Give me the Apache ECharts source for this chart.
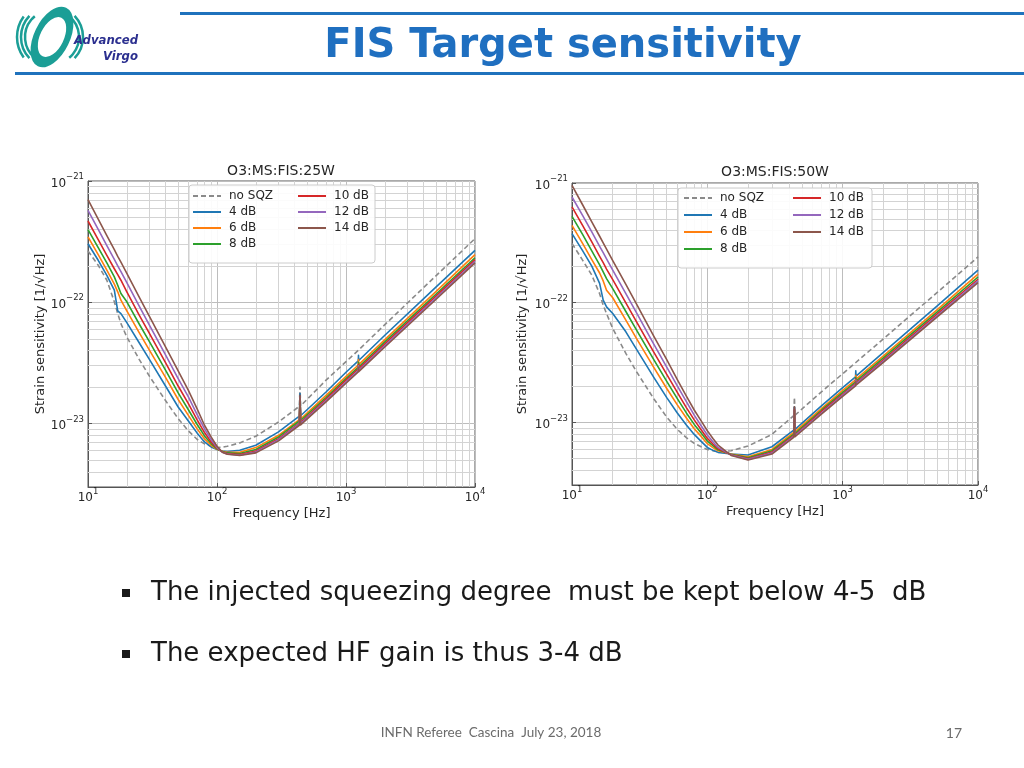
<!DOCTYPE html>
<html>
<head>
<meta charset="utf-8">
<title>FIS Target sensitivity</title>
<script src="https://cdn.jsdelivr.net/npm/echarts@6/dist/echarts.min.js"></script>
<style>
  html, body { margin: 0; padding: 0; background: #fff; }
  #main { width: 1024px; height: 768px; }
</style>
</head>
<body>
<div id="main"></div>
<script>
// frequency points [Hz], shared by both plots
const freq = [10, 12, 14, 16, 17, 18, 20, 25, 30, 40, 50, 60, 70, 80, 90, 100, 110, 120, 150, 200, 300, 435, 440, 445, 700, 1000, 1245, 1250, 1255, 2000, 5000, 10000];

// strain sensitivity [1/sqrt(Hz)], O3:MS:FIS:25W
const noSqz25 = [2.65e-22, 2.02e-22, 1.52e-22, 1.01e-22, 8.07e-23, 6.67e-23, 5.18e-23, 3.37e-23, 2.45e-23, 1.54e-23, 1.10e-23, 8.70e-24, 7.43e-24, 6.80e-24, 6.50e-24, 6.34e-24, 6.38e-24, 6.50e-24, 6.93e-24, 7.86e-24, 1.03e-23, 1.39e-23, 2.00e-23, 1.40e-23, 2.28e-23, 3.24e-23, 4.02e-23, 4.05e-23, 4.07e-23, 6.54e-23, 1.66e-22, 3.35e-22];
const sqz4_25 = [3.04e-22, 2.22e-22, 1.67e-22, 1.26e-22, 8.48e-23, 8.07e-23, 6.80e-23, 4.62e-23, 3.37e-23, 2.03e-23, 1.37e-23, 1.05e-23, 8.38e-24, 7.06e-24, 6.42e-24, 6.11e-24, 5.95e-24, 5.88e-24, 6.03e-24, 6.63e-24, 8.54e-24, 1.15e-23, 1.77e-23, 1.16e-23, 1.82e-23, 2.65e-23, 3.29e-23, 3.66e-23, 3.31e-23, 5.35e-23, 1.34e-22, 2.68e-22];
const sqz6_25 = [3.46e-22, 2.47e-22, 1.84e-22, 1.41e-22, 1.22e-22, 1.04e-22, 8.48e-23, 5.59e-23, 4.02e-23, 2.39e-23, 1.58e-23, 1.17e-23, 9.09e-24, 7.47e-24, 6.63e-24, 6.14e-24, 5.92e-24, 5.80e-24, 5.80e-24, 6.34e-24, 8.01e-24, 1.08e-23, 1.64e-23, 1.09e-23, 1.71e-23, 2.45e-23, 3.04e-23, 3.37e-23, 3.06e-23, 4.92e-23, 1.23e-22, 2.47e-22];
const sqz8_25 = [3.97e-22, 2.82e-22, 2.11e-22, 1.62e-22, 1.38e-22, 1.18e-22, 1.01e-22, 6.59e-23, 4.71e-23, 2.75e-23, 1.79e-23, 1.30e-23, 9.87e-24, 7.91e-24, 6.84e-24, 6.18e-24, 5.88e-24, 5.73e-24, 5.66e-24, 6.11e-24, 7.76e-24, 1.05e-23, 1.61e-23, 1.06e-23, 1.64e-23, 2.35e-23, 2.91e-23, 3.20e-23, 2.93e-23, 4.71e-23, 1.17e-22, 2.33e-22];
const sqz10_25 = [4.68e-22, 3.29e-22, 2.44e-22, 1.89e-22, 1.69e-22, 1.52e-22, 1.22e-22, 7.81e-23, 5.52e-23, 3.16e-23, 2.04e-23, 1.46e-23, 1.08e-23, 8.43e-24, 7.06e-24, 6.26e-24, 5.84e-24, 5.66e-24, 5.55e-24, 5.95e-24, 7.52e-24, 1.01e-23, 1.64e-23, 1.02e-23, 1.59e-23, 2.28e-23, 2.82e-23, 3.08e-23, 2.84e-23, 4.54e-23, 1.13e-22, 2.25e-22];
const sqz12_25 = [5.73e-22, 4.00e-22, 2.93e-22, 2.26e-22, 2.00e-22, 1.79e-22, 1.45e-22, 9.27e-23, 6.46e-23, 3.66e-23, 2.35e-23, 1.66e-23, 1.19e-23, 9.04e-24, 7.38e-24, 6.34e-24, 5.80e-24, 5.62e-24, 5.48e-24, 5.84e-24, 7.38e-24, 9.94e-24, 1.66e-23, 1.00e-23, 1.55e-23, 2.20e-23, 2.73e-23, 2.99e-23, 2.75e-23, 4.39e-23, 1.09e-22, 2.18e-22];
const sqz14_25 = [7.02e-22, 4.86e-22, 3.54e-22, 2.72e-22, 2.39e-22, 2.14e-22, 1.73e-22, 1.10e-22, 7.62e-23, 4.26e-23, 2.72e-23, 1.88e-23, 1.33e-23, 9.69e-24, 7.76e-24, 6.50e-24, 5.80e-24, 5.59e-24, 5.45e-24, 5.73e-24, 7.20e-24, 9.69e-24, 1.71e-23, 9.75e-24, 1.51e-23, 2.15e-23, 2.67e-23, 2.91e-23, 2.68e-23, 4.28e-23, 1.06e-22, 2.11e-22];

// strain sensitivity [1/sqrt(Hz)], O3:MS:FIS:50W
const noSqz50 = [3.12e-22, 2.26e-22, 1.70e-22, 1.19e-22, 9.53e-23, 8.12e-23, 6.09e-23, 3.77e-23, 2.65e-23, 1.59e-23, 1.11e-23, 8.74e-24, 7.45e-24, 6.68e-24, 6.26e-24, 5.95e-24, 5.80e-24, 5.69e-24, 5.80e-24, 6.35e-24, 7.94e-24, 1.14e-23, 1.62e-23, 1.15e-23, 1.81e-23, 2.55e-23, 3.15e-23, 3.17e-23, 3.19e-23, 4.99e-23, 1.22e-22, 2.41e-22];
const sqz4_50 = [3.78e-22, 2.71e-22, 2.02e-22, 1.45e-22, 1.05e-22, 9.23e-23, 8.12e-23, 5.71e-23, 4.07e-23, 2.40e-23, 1.62e-23, 1.20e-23, 9.50e-24, 7.94e-24, 6.94e-24, 6.18e-24, 5.84e-24, 5.62e-24, 5.44e-24, 5.34e-24, 6.26e-24, 8.63e-24, 1.35e-23, 8.74e-24, 1.38e-23, 1.95e-23, 2.40e-23, 2.70e-23, 2.44e-23, 3.84e-23, 9.41e-23, 1.87e-22];
const sqz6_50 = [4.43e-22, 3.12e-22, 2.29e-22, 1.77e-22, 1.52e-22, 1.27e-22, 1.10e-22, 7.14e-23, 5.02e-23, 2.91e-23, 1.93e-23, 1.40e-23, 1.09e-23, 8.85e-24, 7.64e-24, 6.64e-24, 6.15e-24, 5.80e-24, 5.44e-24, 5.17e-24, 5.95e-24, 8.25e-24, 1.28e-23, 8.36e-24, 1.31e-23, 1.85e-23, 2.27e-23, 2.48e-23, 2.30e-23, 3.60e-23, 8.77e-23, 1.73e-22];
const sqz8_50 = [5.27e-22, 3.71e-22, 2.71e-22, 2.07e-22, 1.81e-22, 1.59e-22, 1.31e-22, 8.44e-23, 5.90e-23, 3.38e-23, 2.21e-23, 1.58e-23, 1.20e-23, 9.62e-24, 8.15e-24, 6.99e-24, 6.39e-24, 5.91e-24, 5.41e-24, 5.07e-24, 5.80e-24, 7.99e-24, 1.25e-23, 8.09e-24, 1.27e-23, 1.78e-23, 2.18e-23, 2.37e-23, 2.21e-23, 3.46e-23, 8.38e-23, 1.64e-22];
const sqz10_50 = [6.31e-22, 4.40e-22, 3.22e-22, 2.44e-22, 2.16e-22, 1.91e-22, 1.56e-22, 9.97e-23, 6.92e-23, 3.91e-23, 2.53e-23, 1.78e-23, 1.33e-23, 1.05e-23, 8.69e-24, 7.35e-24, 6.60e-24, 6.03e-24, 5.37e-24, 4.98e-24, 5.65e-24, 7.79e-24, 1.28e-23, 7.89e-24, 1.24e-23, 1.72e-23, 2.12e-23, 2.30e-23, 2.14e-23, 3.33e-23, 8.07e-23, 1.57e-22];
const sqz12_50 = [7.64e-22, 5.34e-22, 3.90e-22, 2.96e-22, 2.62e-22, 2.32e-22, 1.87e-22, 1.19e-22, 8.23e-23, 4.56e-23, 2.91e-23, 2.02e-23, 1.49e-23, 1.15e-23, 9.38e-24, 7.84e-24, 6.90e-24, 6.18e-24, 5.34e-24, 4.91e-24, 5.55e-24, 7.64e-24, 1.31e-23, 7.74e-24, 1.20e-23, 1.69e-23, 2.08e-23, 2.26e-23, 2.10e-23, 3.25e-23, 7.81e-23, 1.52e-22];
const sqz14_50 = [9.56e-22, 6.55e-22, 4.73e-22, 3.59e-22, 3.16e-22, 2.80e-22, 2.25e-22, 1.42e-22, 9.72e-23, 5.32e-23, 3.36e-23, 2.28e-23, 1.66e-23, 1.27e-23, 1.03e-23, 8.52e-24, 7.35e-24, 6.47e-24, 5.30e-24, 4.85e-24, 5.44e-24, 7.50e-24, 1.35e-23, 7.59e-24, 1.18e-23, 1.65e-23, 2.02e-23, 2.20e-23, 2.05e-23, 3.17e-23, 7.62e-23, 1.47e-22];

const seriesNames = ['no SQZ', '4 dB', '6 dB', '8 dB', '10 dB', '12 dB', '14 dB'];
const seriesColors = ['#8a8a8a', '#1f77b4', '#ff7f0e', '#2ca02c', '#d62728', '#9467bd', '#8c564b'];
const plotTitles = ['O3:MS:FIS:25W', 'O3:MS:FIS:50W'];

// tick labels (base, exponent)
const xTicks = [10, 100, 1000, 10000];
const xTickExp = ['1', '2', '3', '4'];
const yTicks = [1e-23, 1e-22, 1e-21];
const yTickExp = ['\u221223', '\u221222', '\u221221'];
const yRange = [3e-24, 1e-21];
const xMinor = [20, 30, 40, 50, 60, 70, 80, 90, 200, 300, 400, 500, 600, 700, 800, 900, 2000, 3000, 4000, 5000, 6000, 7000, 8000, 9000];
const yMinor = [4e-24, 5e-24, 6e-24, 7e-24, 8e-24, 9e-24, 2e-23, 3e-23, 4e-23, 5e-23, 6e-23, 7e-23, 8e-23, 9e-23, 2e-22, 3e-22, 4e-22, 5e-22, 6e-22, 7e-22, 8e-22, 9e-22];

// the log scale rounds values below ~1e-10 to zero, so the y axis works in units of 1e-24
const yUnit = 1e-24;

const sets = [
  [noSqz25, sqz4_25, sqz6_25, sqz8_25, sqz10_25, sqz12_25, sqz14_25],
  [noSqz50, sqz4_50, sqz6_50, sqz8_50, sqz10_50, sqz12_50, sqz14_50]
];

const txt = '#262626';
const font = 'DejaVu Sans';

function pickLabel(ticks, exps, v) {
  for (let i = 0; i < ticks.length; i++) {
    if (Math.abs(Math.log10(ticks[i] / v)) < 1e-6) return '{b|10}{s|' + exps[i] + '}';
  }
  return '';
}
const tickRich = {
  b: { fontSize: 12, fontFamily: font, color: txt, lineHeight: 17, verticalAlign: 'bottom' },
  s: { fontSize: 8.5, fontFamily: font, color: txt, lineHeight: 17, verticalAlign: 'top' }
};

const grids = [
  { left: 88, top: 181, width: 387, height: 306, show: true, borderColor: '#555', borderWidth: 1 },
  { left: 572, top: 183, width: 406, height: 302, show: true, borderColor: '#555', borderWidth: 1 }
];

let xAxes = [], yAxes = [], series = [];
grids.forEach(function (g, k) {
  xAxes.push({
    type: 'log', logBase: 10, gridIndex: k, min: 10, max: 10000,
    name: 'Frequency [Hz]', nameLocation: 'middle', nameGap: 20,
    nameTextStyle: { color: txt, fontSize: 13, fontFamily: font },
    axisLine: { show: true, lineStyle: { color: '#555' } },
    axisTick: { show: true, inside: true, length: 4, lineStyle: { color: '#555' } },
    axisLabel: { color: txt, fontSize: 12, fontFamily: font, margin: 0, rich: tickRich,
      formatter: function (v) { return pickLabel(xTicks, xTickExp, v); } },
    splitLine: { show: true, lineStyle: { color: '#bdbdbd', width: 1 } }
  });
  yAxes.push({
    type: 'log', logBase: 10, gridIndex: k, min: yRange[0] / yUnit, max: yRange[1] / yUnit,
    name: 'Strain sensitivity [1/\u221aHz]', nameLocation: 'middle', nameGap: k === 0 ? 40 : 43,
    nameTextStyle: { color: txt, fontSize: 13, fontFamily: font },
    axisLine: { show: true, lineStyle: { color: '#555' } },
    axisTick: { show: true, inside: true, length: 4, lineStyle: { color: '#555' } },
    axisLabel: { color: txt, fontSize: 12, fontFamily: font, margin: 4, showMinLabel: false, rich: tickRich,
      formatter: function (v) { return pickLabel(yTicks, yTickExp, v * yUnit); } },
    splitLine: { show: true, lineStyle: { color: '#bdbdbd', width: 1 } }
  });

  // minor grid lines
  series.push({
    type: 'line', name: 'minor' + k, xAxisIndex: k, yAxisIndex: k, data: [],
    silent: true,
    markLine: {
      silent: true, symbol: ['none', 'none'], z: 1, animation: false,
      label: { show: false },
      lineStyle: { color: '#d3d3d3', width: 1, type: 'solid' },
      data: xMinor.map(function (v) { return { xAxis: v }; })
        .concat(yMinor.map(function (v) { return { yAxis: v / yUnit }; }))
    }
  });

  sets[k].forEach(function (vals, i) {
    series.push({
      type: 'line', name: seriesNames[i], xAxisIndex: k, yAxisIndex: k,
      data: freq.map(function (f, j) { return [f, vals[j] / yUnit]; }),
      showSymbol: false, symbol: 'none', smooth: false,
      lineStyle: { color: seriesColors[i], width: 1.6, type: i === 0 ? [5, 3] : 'solid', join: 'round' },
      itemStyle: { color: seriesColors[i] },
      emphasis: { disabled: true }
    });
  });
});

function legendCol(left, top, names, gap) {
  return {
    left: left, top: top, orient: 'vertical', padding: 0, itemGap: gap,
    itemWidth: 28, itemHeight: 14, selectedMode: false, z: 5,
    itemStyle: { opacity: 0 },
    lineStyle: { width: 2 },
    textStyle: { color: txt, fontSize: 12, fontFamily: font, padding: [0, 0, 0, 3] },
    data: names
  };
}

const legends = [
  legendCol(192, 190, seriesNames.slice(0, 4), 4),
  legendCol(297, 190, seriesNames.slice(4), 4),
  legendCol(683, 192, seriesNames.slice(0, 4), 5),
  legendCol(792, 192, seriesNames.slice(4), 5)
];

const teal = '#1b9e96';
const graphics = [
  // header rules
  { type: 'rect', shape: { x: 180, y: 12, width: 844, height: 3 }, style: { fill: '#1f72bd' } },
  { type: 'rect', shape: { x: 15, y: 72, width: 1009, height: 3 }, style: { fill: '#1f72bd' } },
  { type: 'text', x: 563, y: 47, style: { text: 'FIS Target sensitivity', fill: '#1f6fc0',
      fontSize: 40, fontWeight: 'bold', fontFamily: 'DejaVu Sans', align: 'center', verticalAlign: 'middle' } },
  // logo
  { type: 'arc', shape: { cx: 52, cy: 37, r: 35, startAngle: Math.PI * 0.8, endAngle: Math.PI * 1.2 }, style: { stroke: teal, fill: null, lineWidth: 2.5 } },
  { type: 'arc', shape: { cx: 52, cy: 37, r: 31, startAngle: Math.PI * 0.76, endAngle: Math.PI * 1.24 }, style: { stroke: teal, fill: null, lineWidth: 2.5 } },
  { type: 'arc', shape: { cx: 52, cy: 37, r: 27, startAngle: Math.PI * 0.72, endAngle: Math.PI * 1.28 }, style: { stroke: teal, fill: null, lineWidth: 2.5 } },
  { type: 'arc', shape: { cx: 52, cy: 37, r: 31, startAngle: -Math.PI * 0.24, endAngle: Math.PI * 0.24 }, style: { stroke: teal, fill: null, lineWidth: 2.5 } },
  { type: 'arc', shape: { cx: 52, cy: 37, r: 27, startAngle: -Math.PI * 0.28, endAngle: Math.PI * 0.28 }, style: { stroke: teal, fill: null, lineWidth: 2.5 } },
  { type: 'circle', shape: { cx: 52, cy: 37, r: 27 }, scaleX: 0.55, rotation: -0.45, originX: 52, originY: 37,
    style: { stroke: teal, fill: null, lineWidth: 11 } },
  { type: 'text', x: 138, y: 41, style: { text: 'Advanced', fill: '#2b2f8f', fontSize: 13, fontWeight: 'bold',
      fontStyle: 'italic', fontFamily: 'DejaVu Sans Condensed', align: 'right', verticalAlign: 'middle' } },
  { type: 'text', x: 138, y: 57, style: { text: 'Virgo', fill: '#2b2f8f', fontSize: 13, fontWeight: 'bold',
      fontStyle: 'italic', fontFamily: 'DejaVu Sans Condensed', align: 'right', verticalAlign: 'middle' } },
  // plot titles
  { type: 'text', x: 281, y: 171, style: { text: plotTitles[0], fill: txt, fontSize: 14, fontFamily: font, align: 'center', verticalAlign: 'middle' } },
  { type: 'text', x: 775, y: 172, style: { text: plotTitles[1], fill: txt, fontSize: 14, fontFamily: font, align: 'center', verticalAlign: 'middle' } },
  // legend frames
  { type: 'rect', z: 3, shape: { x: 189, y: 185, width: 186, height: 78, r: 3 }, style: { fill: 'rgba(255,255,255,0.9)', stroke: '#cccccc', lineWidth: 1 } },
  { type: 'rect', z: 3, shape: { x: 678, y: 188, width: 194, height: 80, r: 3 }, style: { fill: 'rgba(255,255,255,0.9)', stroke: '#cccccc', lineWidth: 1 } },
  // bullets
  { type: 'rect', shape: { x: 122, y: 589, width: 8, height: 8 }, style: { fill: '#1a1a1a' } },
  { type: 'text', x: 151, y: 593, style: { text: 'The injected squeezing degree  must be kept below 4-5  dB', fill: '#1a1a1a',
      fontSize: 26, fontFamily: font, align: 'left', verticalAlign: 'middle' } },
  { type: 'rect', shape: { x: 122, y: 650, width: 8, height: 8 }, style: { fill: '#1a1a1a' } },
  { type: 'text', x: 151, y: 654, style: { text: 'The expected HF gain is thus 3-4 dB', fill: '#1a1a1a',
      fontSize: 26, fontFamily: font, align: 'left', verticalAlign: 'middle' } },
  // footer
  { type: 'text', x: 491, y: 733, style: { text: 'INFN Referee  Cascina  July 23, 2018', fill: '#6b6b6b',
      fontSize: 13.5, fontFamily: 'Lato', align: 'center', verticalAlign: 'middle' } },
  { type: 'text', x: 962, y: 733, style: { text: '17', fill: '#6b6b6b',
      fontSize: 14, fontFamily: 'Lato', align: 'right', verticalAlign: 'middle' } }
];

const chart = echarts.init(document.getElementById('main'), null, { renderer: 'canvas' });
chart.setOption({
  backgroundColor: '#ffffff',
  animation: false,
  grid: grids,
  xAxis: xAxes,
  yAxis: yAxes,
  legend: legends,
  series: series,
  graphic: graphics
});
</script>
</body>
</html>
